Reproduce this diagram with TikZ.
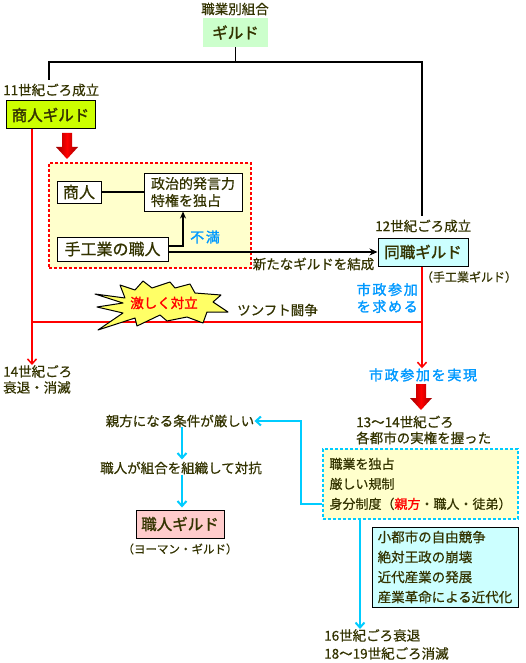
\documentclass[tikz,border=0pt]{standalone}
\usepackage{fontspec}
\newfontfamily\jp{Noto Sans CJK JP}[FakeBold=0.6]
\newfontfamily\jpb{Noto Sans CJK JP}[FakeBold=1.6]
\usetikzlibrary{arrows.meta,calc}
\definecolor{txt}{HTML}{333300}
\definecolor{bluetxt}{HTML}{0099FF}
\definecolor{cyanln}{HTML}{00CCFF}
\definecolor{lyellow}{HTML}{FFFFCC}
\definecolor{gfill}{HTML}{CCFFCC}
\definecolor{lime}{HTML}{CCFF00}
\definecolor{lcyan}{HTML}{CCFFFF}
\definecolor{lpink}{HTML}{FFCCCC}
\definecolor{burstfill}{HTML}{FFFF66}
\definecolor{darkred}{HTML}{990000}
\begin{document}
\begin{tikzpicture}[x=1pt,y=-1pt,
  every node/.style={font=\jp\fontsize{13.5}{16}\selectfont, text=txt, inner sep=0pt},
  titlebox/.style={draw=black, line width=1pt, font=\jpb\fontsize{15.5}{18}\selectfont},
  plainbox/.style={draw=black, line width=1pt, fill=white},
  bluetext/.style={text=bluetxt, font=\jpb\fontsize{14}{17}\selectfont\addfontfeature{LetterSpace=12}},
  blk/.style={draw=black, line width=1.8pt},
  redln/.style={draw=red, line width=1.5pt},
  cyl/.style={draw=cyanln, line width=2pt},
  barb/.style={-{Straight Barb[length=5pt,width=9pt]}},
  fatarrow/.style={left color=darkred, right color=darkred, middle color=red}
]
\useasboundingbox (0,0) rectangle (525,663);
\fill[white] (0,0) rectangle (525,663);

% top
\node (cat) at (235,9) {職業別組合};
\node[titlebox, draw=none, fill=gfill, minimum width=65pt, minimum height=29pt] (guild) at (235.5,32.5) {ギルド};
\coordinate (jn) at (235.5,62);
\coordinate (jl) at (49,80);
\coordinate (jr) at (422,216);
\draw[blk] (guild.south) -- (jn);
\draw[blk] (jn) -| (jl);
\draw[blk] (jn) -| (jr);

% merchant guild
\node[anchor=west] (t11) at (3,90) {11世紀ごろ成立};
\node[titlebox, fill=lime, minimum width=89pt, minimum height=28pt] (mg) at (50.5,115) {商人ギルド};
\node[anchor=north west, align=left] (t14) at (3,365) {14世紀ごろ\\衰退・消滅};
\draw[redln, barb] ([xshift=-18.5pt]mg.south) -- ([xshift=-18.5pt]mg.south |- t14.north);

\shade[fatarrow] (62,133) -- (72,133) -- (72,147) -- (78,147) -- (67,159) -- (56,147) -- (62,147) -- cycle;

% dashed red box
\node[draw=red, line width=1.5pt, dash pattern=on 3pt off 2pt, fill=lyellow, minimum width=202pt, minimum height=105pt] (pbox) at (150,215.5) {};
\node[plainbox, minimum width=44pt, minimum height=22pt, font=\jp\fontsize{16}{18}\selectfont] (shonin) at (79,192) {商人};
\node[plainbox, minimum width=98pt, minimum height=38pt, align=left, font=\jp\fontsize{14}{17}\selectfont] (priv) at (193,192) {政治的発言力\\特権を独占};
\node[plainbox, minimum width=111pt, minimum height=24pt, font=\jp\fontsize{16}{18}\selectfont] (artisan) at (112.5,249) {手工業の職人};
\draw[blk] (shonin) -- (priv);
\draw[blk, -{Stealth[length=7pt,width=6pt]}] ([yshift=3pt]artisan.east) -| ([xshift=-10pt]priv.south);
\node[bluetext] (fuman) at (205,237) {不満};

% craft guild
\node[anchor=west] (t12) at (375,226) {12世紀ごろ成立};
\node[titlebox, fill=lcyan, minimum width=90pt, minimum height=28pt] (dg) at (423,252) {同職ギルド};
\draw[blk, -{Stealth[length=8pt,width=7pt]}] (artisan.east |- dg.west) -- (dg.west);
\node (musubi) at (313.5,264) {新たなギルドを結成};
\node[font=\jp\fontsize{12}{14}\selectfont] (tegy) at (469,277) {（手工業ギルド）};

% conflict
\coordinate (rl) at ([xshift=-18.5pt]mg.south |- 0,322);
\coordinate (rr) at (422,322);
\draw[redln] (rl) -- (rr);
\node[bluetext, align=right, anchor=east] (motomeru) at (418,298) {市政参加\\を求める};
\node[anchor=west] (tsunft) at (237,310) {ツンフト闘争};
\draw[fill=burstfill, line width=1pt, line join=round]
 (95,294) -- (125,298) -- (120,285) -- (135,290) -- (143,281) -- (152,288) -- (170,282) -- (175,288) -- (190,284) -- (195,293)
 -- (221,295) -- (213,302) -- (228,312) -- (207,312) -- (203,323) -- (187,317) -- (167,321) -- (160,315) -- (137,326) -- (135,318)
 -- (98,330) -- (123,313) -- (97,307) -- (123,303) -- cycle;
\node[text=red, font=\jpb\fontsize{13.5}{16}\selectfont] (gekishiku) at (164,303) {激しく対立};

% right column
\node[bluetext] (jitsu) at (423,375) {市政参加を実現};
\draw[redln, barb] ([xshift=-1pt]dg.south) -- ([xshift=-1pt]dg.south |- jitsu.north);
\shade[fatarrow] (416,384) -- (426,384) -- (426,398) -- (432,398) -- (421,410) -- (410,398) -- (416,398) -- cycle;
\node[anchor=west, align=left] (t1314) at (356,430) {13～14世紀ごろ\\各都市の実権を握った};
\node[draw=cyanln, line width=1.8pt, dash pattern=on 3pt off 2pt, fill=lyellow, minimum width=195pt, minimum height=70pt, align=left, font=\jp\fontsize{13}{20}\selectfont] (cbox) at (420.5,484)
 {職業を独占\\厳しい規制\\身分制度（{\jpb\color{red}親方}・職人・徒弟）};
\node[plainbox, fill=lcyan, minimum width=146pt, minimum height=80pt, align=left, font=\jp\fontsize{13.5}{20}\selectfont] (fbox) at (445,567)
 {小都市の自由競争\\絶対王政の崩壊\\近代産業の発展\\産業革命による近代化};
\node[anchor=north west, align=left, font=\jp\fontsize{13.5}{18}\selectfont] (end16) at (324,629) {16世紀ごろ衰退\\18～19世紀ごろ消滅};
\draw[cyl, barb] ([xshift=-60.5pt]cbox.south) -- ([xshift=-60.5pt]cbox.south |- end16.north);

% left lower
\node (oyakata) at (180,421) {親方になる条件が厳しい};
\node (kumiai) at (181,468) {職人が組合を組織して対抗};
\node[titlebox, fill=lpink, minimum width=88pt, minimum height=28pt] (sg) at (180,524) {職人ギルド};
\node[font=\jp\fontsize{11.5}{14}\selectfont] (yeoman) at (180,549) {（ヨーマン・ギルド）};
\coordinate (cc) at (301,421);
\draw[cyl, barb] ([yshift=-20pt]cbox.west) -| (cc) -- (oyakata.east);
\draw[cyl, barb, shorten >=2pt] ([xshift=2pt]oyakata.south) -- ([xshift=2pt]oyakata.south |- kumiai.north);
\draw[cyl, barb, shorten >=2pt] ([xshift=1pt]kumiai.south) -- ([xshift=1pt]kumiai.south |- sg.north);
\end{tikzpicture}
\end{document}
